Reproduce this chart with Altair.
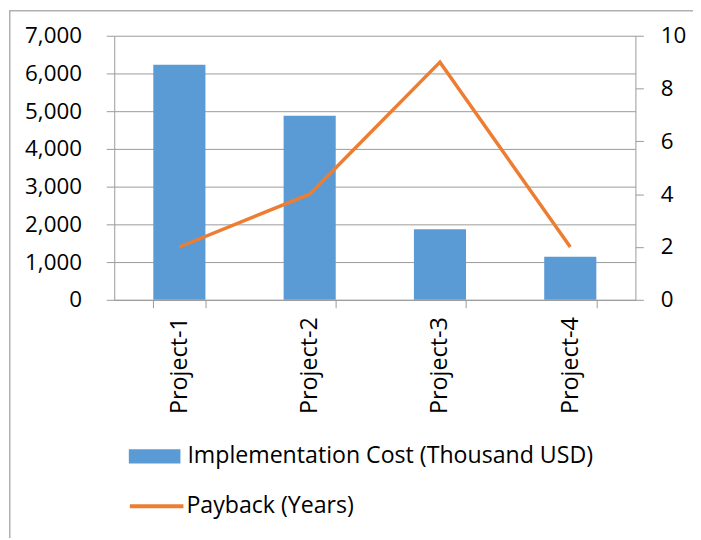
import altair as alt
import pandas as pd

projects = ["Project-1", "Project-2", "Project-3", "Project-4"]
cost = [6230, 4880, 1870, 1140]
payback = [2, 4, 9, 2]
cost_ticks = [0, 1000, 2000, 3000, 4000, 5000, 6000, 7000]
payback_ticks = [0, 2, 4, 6, 8, 10]
cost_label = "Implementation Cost (Thousand USD)"
payback_label = "Payback (Years)"

df = pd.DataFrame({"project": projects, "cost": cost, "payback": payback})
df["cost_series"] = cost_label
df["pay_series"] = payback_label

FONT = "Open Sans"
FS = 22.5
FS_X = 23.5
FS_LEG = 23.3
GRAY = "#9A9A9A"
BLUE = "#5B9BD5"
ORANGE = "#ED7D31"

x = alt.X(
    "project:N",
    sort=projects,
    scale=alt.Scale(paddingInner=0.6, paddingOuter=0.3),
    axis=alt.Axis(
        title=None, labelAngle=270, labelFont=FONT, labelFontSize=FS_X,
        labelColor="black", tickSize=8, tickColor=GRAY, domainColor=GRAY,
        tickBand="extent", labelPadding=9, grid=False,
    ),
)

bars = alt.Chart(df).mark_bar().encode(
    x=x,
    y=alt.Y(
        "cost:Q",
        scale=alt.Scale(domain=[0, 7000], nice=False),
        axis=alt.Axis(
            title=None, orient="left", values=cost_ticks, format=",.0f",
            grid=True, gridColor=GRAY, tickSize=8, tickColor=GRAY,
            domainColor=GRAY, labelPadding=25, labelFont=FONT,
            labelFontSize=FS, labelColor="black",
        ),
    ),
    fill=alt.Fill(
        "cost_series:N",
        scale=alt.Scale(domain=[cost_label], range=[BLUE]),
        legend=alt.Legend(
            title=None, orient="none", legendX=14.7, legendY=397.7,
            symbolType="M-1,-0.28H1V0.28H-1Z", symbolSize=2704,
            symbolStrokeWidth=0, symbolOpacity=1, labelFont=FONT,
            labelFontSize=FS_LEG, labelColor="black", labelOffset=7,
            labelLimit=0, padding=0,
        ),
    ),
)

line = alt.Chart(df).mark_line(strokeWidth=3.5).encode(
    x=x,
    y=alt.Y(
        "payback:Q",
        scale=alt.Scale(domain=[0, 10], nice=False),
        axis=alt.Axis(
            title=None, orient="right", values=payback_ticks, grid=False,
            tickSize=8, tickColor=GRAY, domainColor=GRAY, labelPadding=17,
            labelFont=FONT, labelFontSize=FS, labelColor="black",
        ),
    ),
    stroke=alt.Stroke(
        "pay_series:N",
        scale=alt.Scale(domain=[payback_label], range=[ORANGE]),
        legend=alt.Legend(
            title=None, orient="none", legendX=13.7, legendY=445,
            symbolType="stroke", symbolSize=2916, symbolStrokeWidth=4,
            symbolOpacity=1, labelFont=FONT, labelFontSize=FS_LEG,
            labelColor="black", labelOffset=1, labelLimit=0, padding=0,
        ),
    ),
)

frame = alt.Chart(pd.DataFrame({"f": [0]})).mark_rect(
    fillOpacity=0, stroke="#B0B0B0", strokeWidth=1.5
).encode(
    x=alt.value(-105.2), x2=alt.value(700), y=alt.value(-25.2), y2=alt.value(700)
)

chart = (
    alt.layer(bars, line, frame)
    .resolve_scale(y="independent")
    .properties(
        width=525, height=266,
        autosize=alt.AutoSizeParams(type="none"),
        padding={"left": 107, "top": 26, "right": 58, "bottom": 238},
    )
    .configure_view(strokeWidth=0)
)

chart.save("out.html", embed_options={"renderer": "svg", "actions": False})
